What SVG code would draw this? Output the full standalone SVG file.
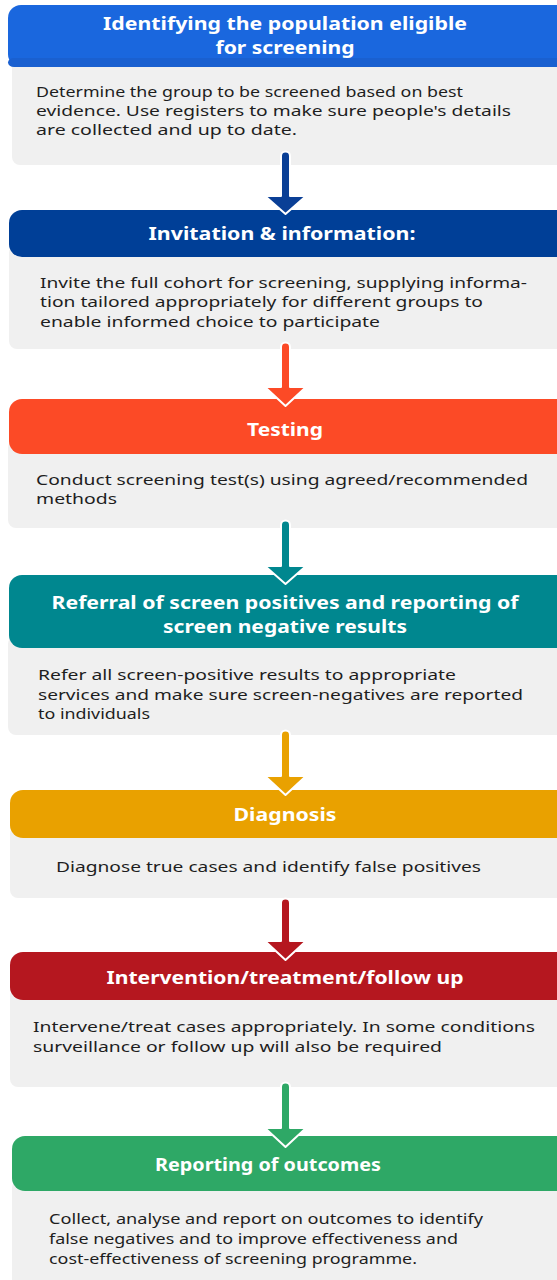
<svg xmlns="http://www.w3.org/2000/svg" width="557" height="1280" viewBox="0 0 557 1280">
<style>
.body{fill:#f0f0f0}
.ttl{font-family:"Noto Sans","Open Sans",sans-serif;font-weight:700;font-size:17px;fill:#ffffff;}
.txt{font-family:"Noto Sans","Open Sans",sans-serif;font-size:14.5px;fill:#1e1e1e;}
.arr{stroke:#ffffff;stroke-width:2;stroke-linejoin:round}
</style>
<rect width="557" height="1280" fill="#ffffff"/>

<g id="n1">
<rect class="body" x="12" y="50" width="560" height="115" rx="8"/>
<rect x="8" y="5" width="564" height="62" rx="13" fill="#1a67de"/>
<rect x="8" y="58" width="564" height="9" rx="6" fill="#1a60d0"/>
<text class="ttl" x="285" y="30" text-anchor="middle" textLength="364" lengthAdjust="spacingAndGlyphs">Identifying the population eligible</text>
<text class="ttl" x="285" y="54" text-anchor="middle" textLength="139" lengthAdjust="spacingAndGlyphs">for screening</text>
<text class="txt" x="36" y="97" textLength="427" lengthAdjust="spacingAndGlyphs">Determine the group to be screened based on best</text>
<text class="txt" x="36" y="116" textLength="475" lengthAdjust="spacingAndGlyphs">evidence. Use registers to make sure people's details</text>
<text class="txt" x="36" y="135" textLength="261" lengthAdjust="spacingAndGlyphs">are collected and up to date.</text>
</g>

<g id="n2">
<rect class="body" x="9" y="245" width="563" height="104" rx="8"/>
<rect x="9" y="210" width="563" height="47" rx="13" fill="#003f97"/>
<text class="ttl" x="282" y="240" text-anchor="middle" textLength="267" lengthAdjust="spacingAndGlyphs">Invitation &amp; information:</text>
<text class="txt" x="40" y="288" textLength="487" lengthAdjust="spacingAndGlyphs">Invite the full cohort for screening, supplying informa-</text>
<text class="txt" x="40" y="307" textLength="443" lengthAdjust="spacingAndGlyphs">tion tailored appropriately for different groups to</text>
<text class="txt" x="40" y="327" textLength="340" lengthAdjust="spacingAndGlyphs">enable informed choice to participate</text>
</g>

<g id="n3">
<rect class="body" x="8" y="440" width="564" height="88" rx="8"/>
<rect x="9" y="399" width="563" height="55" rx="13" fill="#fc4a26"/>
<text class="ttl" x="285" y="436" text-anchor="middle" textLength="76" lengthAdjust="spacingAndGlyphs">Testing</text>
<text class="txt" x="36" y="485" textLength="492" lengthAdjust="spacingAndGlyphs">Conduct screening test(s) using agreed/recommended</text>
<text class="txt" x="36" y="504" textLength="81" lengthAdjust="spacingAndGlyphs">methods</text>
</g>

<g id="n4">
<rect class="body" x="8" y="636" width="564" height="99" rx="8"/>
<rect x="9" y="575" width="563" height="73" rx="13" fill="#00878f"/>
<text class="ttl" x="285" y="609" text-anchor="middle" textLength="467" lengthAdjust="spacingAndGlyphs">Referral of screen positives and reporting of</text>
<text class="ttl" x="285" y="633" text-anchor="middle" textLength="244" lengthAdjust="spacingAndGlyphs">screen negative results</text>
<text class="txt" x="38" y="680" textLength="418" lengthAdjust="spacingAndGlyphs">Refer all screen-positive results to appropriate</text>
<text class="txt" x="38" y="700" textLength="485" lengthAdjust="spacingAndGlyphs">services and make sure screen-negatives are reported</text>
<text class="txt" x="38" y="719" textLength="112" lengthAdjust="spacingAndGlyphs">to individuals</text>
</g>

<g id="n5">
<rect class="body" x="10" y="826" width="562" height="72" rx="8"/>
<rect x="10" y="790" width="562" height="48" rx="13" fill="#e9a100"/>
<text class="ttl" x="285" y="821" text-anchor="middle" textLength="103" lengthAdjust="spacingAndGlyphs">Diagnosis</text>
<text class="txt" x="56" y="872" textLength="425" lengthAdjust="spacingAndGlyphs">Diagnose true cases and identify false positives</text>
</g>

<g id="n6">
<rect class="body" x="10" y="988" width="562" height="99" rx="8"/>
<rect x="10" y="952" width="562" height="48" rx="13" fill="#b5171f"/>
<text class="ttl" x="285" y="984" text-anchor="middle" textLength="357" lengthAdjust="spacingAndGlyphs">Intervention/treatment/follow up</text>
<text class="txt" x="33" y="1032" textLength="502" lengthAdjust="spacingAndGlyphs">Intervene/treat cases appropriately. In some conditions</text>
<text class="txt" x="33" y="1052" textLength="409" lengthAdjust="spacingAndGlyphs">surveillance or follow up will also be required</text>
</g>

<g id="n7">
<rect class="body" x="12" y="1180" width="560" height="110" rx="8"/>
<rect x="12" y="1136" width="560" height="55" rx="13" fill="#2ea866"/>
<text class="ttl" x="268" y="1171" text-anchor="middle" textLength="226" lengthAdjust="spacingAndGlyphs">Reporting of outcomes</text>
<text class="txt" x="49" y="1224" textLength="434" lengthAdjust="spacingAndGlyphs">Collect, analyse and report on outcomes to identify</text>
<text class="txt" x="49" y="1244" textLength="409" lengthAdjust="spacingAndGlyphs">false negatives and to improve effectiveness and</text>
<text class="txt" x="49" y="1264" textLength="368" lengthAdjust="spacingAndGlyphs">cost-effectiveness of screening programme.</text>
</g>

<g id="connectors">
<path class="arr" fill="#0a3f96" d="M281,196 V156 a4.5,4.5 0 0 1 9,0 V196 H306 L285.5,214 L265,196 Z"/>
<path class="arr" fill="#fc4a26" d="M281,387 V347 a4.5,4.5 0 0 1 9,0 V387 H306 L285.5,406 L265,387 Z"/>
<path class="arr" fill="#00878f" d="M281,566 V525 a4.5,4.5 0 0 1 9,0 V566 H306 L285.5,584 L265,566 Z"/>
<path class="arr" fill="#e9a100" d="M281,776 V735 a4.5,4.5 0 0 1 9,0 V776 H306 L285.5,795 L265,776 Z"/>
<path class="arr" fill="#b5171f" d="M281,941 V903 a4.5,4.5 0 0 1 9,0 V941 H306 L285.5,960 L265,941 Z"/>
<path class="arr" fill="#2ea866" d="M281,1128 V1087 a4.5,4.5 0 0 1 9,0 V1128 H306 L285.5,1147 L265,1128 Z"/>
</g>
</svg>
